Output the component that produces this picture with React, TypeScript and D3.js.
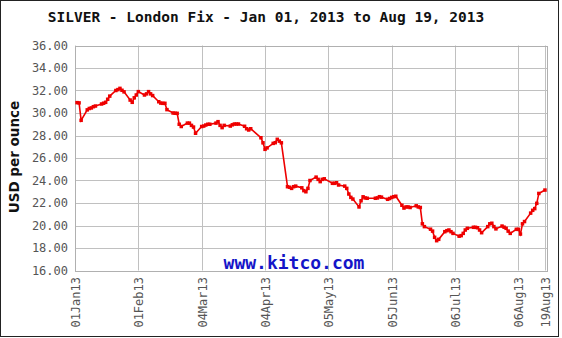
import React from "react";
import * as d3 from "d3";

const titleText = "SILVER - London Fix - Jan 01, 2013 to Aug 19, 2013";
const yAxisLabel = "USD per ounce";
const watermark = "www.kitco.com";

const yTicks = [16, 18, 20, 22, 24, 26, 28, 30, 32, 34, 36];
const xTickDates = ["2013-01-01", "2013-02-01", "2013-03-04", "2013-04-04", "2013-05-05", "2013-06-05", "2013-07-06", "2013-08-06", "2013-08-19"];
const xTickLabels = ["01Jan13", "01Feb13", "04Mar13", "04Apr13", "05May13", "05Jun13", "06Jul13", "06Aug13", "19Aug13"];

const fixDates = [
  "2013-01-02", "2013-01-03", "2013-01-04", "2013-01-07", "2013-01-08", "2013-01-09", "2013-01-10", "2013-01-11",
  "2013-01-14", "2013-01-15", "2013-01-16", "2013-01-17", "2013-01-18", "2013-01-21", "2013-01-22", "2013-01-23",
  "2013-01-24", "2013-01-25", "2013-01-28", "2013-01-29", "2013-01-30", "2013-01-31", "2013-02-01", "2013-02-04",
  "2013-02-05", "2013-02-06", "2013-02-07", "2013-02-08", "2013-02-11", "2013-02-12", "2013-02-13", "2013-02-14",
  "2013-02-15", "2013-02-18", "2013-02-19", "2013-02-20", "2013-02-21", "2013-02-22", "2013-02-25", "2013-02-26",
  "2013-02-27", "2013-02-28", "2013-03-01", "2013-03-04", "2013-03-05", "2013-03-06", "2013-03-07", "2013-03-08",
  "2013-03-11", "2013-03-12", "2013-03-13", "2013-03-14", "2013-03-15", "2013-03-18", "2013-03-19", "2013-03-20",
  "2013-03-21", "2013-03-22", "2013-03-25", "2013-03-26", "2013-03-27", "2013-03-28", "2013-04-02", "2013-04-03",
  "2013-04-04", "2013-04-05", "2013-04-08", "2013-04-09", "2013-04-10", "2013-04-11", "2013-04-12", "2013-04-15",
  "2013-04-16", "2013-04-17", "2013-04-18", "2013-04-19", "2013-04-22", "2013-04-23", "2013-04-24", "2013-04-25",
  "2013-04-26", "2013-04-29", "2013-04-30", "2013-05-01", "2013-05-02", "2013-05-03", "2013-05-07", "2013-05-08",
  "2013-05-09", "2013-05-10", "2013-05-13", "2013-05-14", "2013-05-15", "2013-05-16", "2013-05-17", "2013-05-20",
  "2013-05-21", "2013-05-22", "2013-05-23", "2013-05-24", "2013-05-28", "2013-05-29", "2013-05-30", "2013-05-31",
  "2013-06-03", "2013-06-04", "2013-06-05", "2013-06-06", "2013-06-07", "2013-06-10", "2013-06-11", "2013-06-12",
  "2013-06-13", "2013-06-14", "2013-06-17", "2013-06-18", "2013-06-19", "2013-06-20", "2013-06-21", "2013-06-24",
  "2013-06-25", "2013-06-26", "2013-06-27", "2013-06-28", "2013-07-01", "2013-07-02", "2013-07-03", "2013-07-04",
  "2013-07-05", "2013-07-08", "2013-07-09", "2013-07-10", "2013-07-11", "2013-07-12", "2013-07-15", "2013-07-16",
  "2013-07-17", "2013-07-18", "2013-07-19", "2013-07-22", "2013-07-23", "2013-07-24", "2013-07-25", "2013-07-26",
  "2013-07-29", "2013-07-30", "2013-07-31", "2013-08-01", "2013-08-02", "2013-08-05", "2013-08-06", "2013-08-07",
  "2013-08-08", "2013-08-09", "2013-08-12", "2013-08-13", "2013-08-14", "2013-08-15", "2013-08-16", "2013-08-19",
];

const fixPrices = [
  30.92, 30.9, 29.35, 30.28, 30.4, 30.45, 30.56, 30.62,
  30.8, 30.87, 30.95, 31.22, 31.5, 32.0, 32.08, 32.19,
  32.02, 31.88, 31.15, 30.95, 31.35, 31.6, 31.9, 31.6,
  31.7, 31.9, 31.7, 31.55, 31.0, 30.88, 30.86, 30.86,
  30.3, 30.0, 29.98, 29.97, 29.0, 28.8, 29.1, 29.1,
  28.9, 28.75, 28.2, 28.8, 28.84, 28.93, 29.0, 29.0,
  29.1, 29.23, 28.9, 28.7, 28.9, 28.84, 28.95, 29.02,
  29.02, 29.02, 28.82, 28.6, 28.49, 28.6, 27.8, 27.35,
  26.77, 26.9, 27.3, 27.36, 27.66, 27.5, 27.35, 23.45,
  23.4, 23.3, 23.45, 23.5, 23.35, 23.1, 23.0, 23.3,
  24.0, 24.3, 24.1, 23.9, 24.1, 24.15, 23.75, 23.75,
  23.8, 23.6, 23.5, 23.3, 22.8, 22.5, 22.35, 21.65,
  22.2, 22.55, 22.45, 22.42, 22.42, 22.45, 22.56, 22.52,
  22.33, 22.4, 22.5, 22.56, 22.6, 21.8, 21.55, 21.65,
  21.65, 21.6, 21.75, 21.65, 21.6, 20.15, 19.9, 19.67,
  19.5, 18.95, 18.65, 18.77, 19.45, 19.54, 19.6, 19.45,
  19.3, 19.05, 19.1, 19.3, 19.6, 19.75, 19.84, 19.84,
  19.8, 19.6, 19.36, 19.9, 20.15, 20.2, 19.9, 19.7,
  19.95, 19.85, 19.75, 19.5, 19.3, 19.66, 19.66, 19.24,
  20.15, 20.35, 21.1, 21.35, 21.5, 21.97, 22.85, 23.15,
];

const W = 562;
const H = 338;
const plot = { left: 75, right: 547, top: 45.5, bottom: 270.5 };

export default function App() {
  const parse = d3.timeParse("%Y-%m-%d");
  const x = d3
    .scaleTime()
    .domain([parse("2013-01-01") as Date, parse("2013-08-20") as Date])
    .range([plot.left, plot.right]);
  const y = d3.scaleLinear().domain([16, 36]).range([plot.bottom, plot.top]);

  const pts = fixDates.map((d, i) => ({ date: parse(d) as Date, v: fixPrices[i] }));
  const line = d3
    .line<{ date: Date; v: number }>()
    .x((d) => x(d.date))
    .y((d) => y(d.v));

  const mono = "'DejaVu Sans Mono', monospace";
  const ticks = xTickDates.map((d, i) => ({ x: Math.round(x(parse(d) as Date)) + 0.5, label: xTickLabels[i] }));

  return (
    <svg
      width={W}
      height={H}
      style={{ position: "absolute", left: 0, top: 0, background: "#fff" }}
    >
      <rect x={0} y={0} width={W} height={H} fill="#fff" />
      <rect x={0.5} y={0.5} width={558} height={336} fill="none" stroke="#222" strokeWidth={1} />
      <text
        x={266}
        y={22}
        textAnchor="middle"
        fontFamily={mono}
        fontWeight="bold"
        fontSize={14.5}
        fill="#111"
      >
        {titleText}
      </text>

      {/* horizontal grid */}
      {yTicks.map((t) => (
        <line
          key={"h" + t}
          x1={plot.left}
          x2={plot.right}
          y1={Math.round(y(t)) + 0.5}
          y2={Math.round(y(t)) + 0.5}
          stroke="#c0c0c0"
          strokeWidth={1}
        />
      ))}
      {/* vertical grid */}
      {ticks.map((t, i) => (
        <line
          key={"v" + i}
          x1={t.x}
          x2={t.x}
          y1={plot.top}
          y2={plot.bottom}
          stroke="#c0c0c0"
          strokeWidth={1}
        />
      ))}
      <rect
        x={plot.left + 0.5}
        y={Math.round(plot.top) + 0.5}
        width={plot.right - plot.left}
        height={Math.round(plot.bottom) - Math.round(plot.top)}
        fill="none"
        stroke="#b0b0b0"
        strokeWidth={1}
      />

      {/* y tick labels */}
      {yTicks.map((t) => (
        <text
          key={"yl" + t}
          x={68}
          y={y(t)}
          dy="0.35em"
          textAnchor="end"
          fontFamily={mono}
          fontSize={12}
          fill="#555"
        >
          {t.toFixed(2)}
        </text>
      ))}

      {/* x tick labels */}
      {ticks.map((t, i) => (
        <text
          key={"xl" + i}
          transform={`translate(${t.x},277) rotate(-90)`}
          dy="0.35em"
          textAnchor="end"
          fontFamily={mono}
          fontSize={12}
          fill="#555"
        >
          {t.label}
        </text>
      ))}

      <text
        transform={`translate(19,157) rotate(-90)`}
        textAnchor="middle"
        fontFamily="'DejaVu Sans', Verdana, sans-serif"
        fontWeight="bold"
        fontSize={13.5}
        fill="#111"
      >
        {yAxisLabel}
      </text>

      <text
        x={294}
        y={269}
        textAnchor="middle"
        fontFamily={mono}
        fontWeight="bold"
        fontSize={18}
        fill="#1515c8"
      >
        {watermark}
      </text>

      <path d={line(pts) || ""} fill="none" stroke="#ee0000" strokeWidth={1.6} />
      {pts.map((p, i) => (
        <rect
          key={"m" + i}
          x={x(p.date) - 1.75}
          y={y(p.v) - 1.75}
          width={3.5}
          height={3.5}
          fill="#ee0000"
        />
      ))}
    </svg>
  );
}
